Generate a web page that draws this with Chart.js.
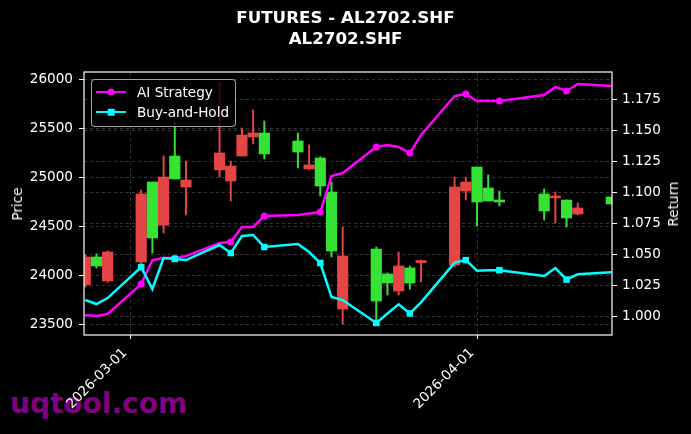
<!DOCTYPE html>
<html>
<head>
<meta charset="utf-8">
<script src="https://cdn.jsdelivr.net/npm/chart.js@4.4.1/dist/chart.umd.min.js"></script>
<style>
  html, body { margin: 0; padding: 0; background: #000; }
  #wrap { position: relative; width: 691px; height: 434px; overflow: hidden; font-family: 'DejaVu Sans', sans-serif; color: #fff; }
  #grafico { position: absolute; left: 0; top: 0; z-index: 1; }
  #marca { position: absolute; left: 10px; top: 390px; font-size: 28px; line-height: 28px; font-weight: bold; color: #800080; z-index: 0; white-space: nowrap; }
  #titulo { position: absolute; left: 0; width: 691px; top: 7px; text-align: center; font-size: 16.7px; line-height: 21px; font-weight: bold; z-index: 2; }
  .ejeTitulo { position: absolute; font-size: 13.6px; white-space: nowrap; transform: translate(-50%, -50%) rotate(-90deg); z-index: 2; }
  #leyenda { position: absolute; left: 91px; top: 79px; width: 143px; height: 44px; border: 1px solid rgba(204,204,204,0.8); border-radius: 4px; background: rgba(0,0,0,0.8); padding-top: 2px; box-sizing: content-box; z-index: 3; }
  .fila { display: flex; align-items: center; height: 20px; font-size: 13.6px; }
  .simbolo { position: relative; width: 30px; height: 20px; margin-left: 4px; margin-right: 11px; }
  .simbolo .linea { position: absolute; left: 0; right: 0; top: 8.75px; height: 2.5px; }
  .simbolo .marca { position: absolute; left: 50%; top: 50%; transform: translate(-50%, -50%); }
</style>
</head>
<body>
<div id="wrap">
  <div id="marca">uqtool.com</div>
  <canvas id="grafico" width="691" height="434"></canvas>
  <div id="titulo">FUTURES - AL2702.SHF<br>AL2702.SHF</div>
  <div class="ejeTitulo" style="left:17px; top:203.5px;">Price</div>
  <div class="ejeTitulo" style="left:673px; top:203.5px;">Return</div>
  <div id="leyenda"></div>
</div>
<script>
// Velas diarias AL2702.SHF
const fechas = ['2026-02-25','2026-02-26','2026-02-27','2026-03-02','2026-03-03','2026-03-04','2026-03-05','2026-03-06',
  '2026-03-09','2026-03-10','2026-03-11','2026-03-12','2026-03-13','2026-03-16','2026-03-17','2026-03-18','2026-03-19',
  '2026-03-20','2026-03-23','2026-03-24','2026-03-25','2026-03-26','2026-03-27','2026-03-30','2026-03-31','2026-04-01',
  '2026-04-02','2026-04-03','2026-04-07','2026-04-08','2026-04-09','2026-04-10','2026-04-13'];
const apertura = [23901, 24187, 23942, 24136, 24952, 24511, 25217, 24901, 25075, 24962, 25217, 25411, 25452, 25370, 25085, 25197, 24850,
  23656, 24268, 24013, 23840, 24075, 24130, 24105, 24860, 25105, 24891, 24753, 24830, 24789, 24768, 24626, 24799];
const maximo = [24210, 24218, 24250, 24870, 24952, 25217, 25564, 25166, 25972, 25166, 25503, 25687, 25574, 25452, 25330, 25207, 24952,
  24493, 24289, 24024, 24238, 24095, 24156, 25003, 25003, 25105, 25024, 24860, 24881, 24850, 24768, 24738, 24799];
const minimo = [23880, 24074, 23930, 24115, 24228, 24432, 24983, 24615, 25003, 24758, 25217, 25340, 25187, 25095, 25075, 24809, 24187,
  23503, 23514, 23799, 23799, 23860, 23932, 24085, 24768, 24503, 24758, 24707, 24564, 24534, 24493, 24616, 24728];
const cierre = [24187, 24095, 24238, 24830, 24381, 25003, 24983, 24972, 25248, 25115, 25431, 25452, 25238, 25258, 25126, 24911, 24248,
  24197, 23737, 23921, 24095, 23921, 24136, 24901, 24952, 24748, 24758, 24748, 24656, 24809, 24585, 24687, 24728];

// Curvas de rendimiento (eje derecho)
const retornoIA = [1.0008, 1.0000, 1.0016, 1.0258, 1.0452, 1.0468, 1.0468, 1.0484, 1.0589, 1.0597, 1.0718, 1.0718, 1.0807, 1.0815, 1.0827, 1.0839, 1.1130,
  1.1154, 1.1364, 1.1380, 1.1364, 1.1315, 1.1461, 1.1775, 1.1791, 1.1735, 1.1735, 1.1735, 1.1783, 1.1848, 1.1816, 1.1872, 1.1856];
const retornoBH = [1.0129, 1.0097, 1.0145, 1.0395, 1.0218, 1.0468, 1.0460, 1.0452, 1.0573, 1.0508, 1.0646, 1.0654, 1.0557, 1.0581, 1.0516, 1.0428, 1.0153,
  1.0129, 0.9944, 1.0021, 1.0094, 1.0021, 1.0110, 1.0431, 1.0451, 1.0366, 1.0370, 1.0370, 1.0323, 1.0387, 1.0294, 1.0337, 1.0354];

const ticksFecha = ['2026-03-01', '2026-04-01'];
const ticksPrecio = [23500, 24000, 24500, 25000, 25500, 26000];
const ticksRetorno = [1.000, 1.025, 1.050, 1.075, 1.100, 1.125, 1.150, 1.175];

const series = [
  { nombre: 'AI Strategy', color: '#ff00ff', forma: 'circle' },
  { nombre: 'Buy-and-Hold', color: '#00ffff', forma: 'rect' }
];

function diaNum(s) {
  const [a, m, d] = s.split('-').map(Number);
  return Date.UTC(a, m - 1, d) / 86400000;
}
function diaTexto(n) {
  return new Date(Math.round(n) * 86400000).toISOString().slice(0, 10);
}

// Leyenda en HTML (línea con marcador)
const leyenda = document.getElementById('leyenda');
series.forEach(s => {
  const marca = s.forma === 'circle'
    ? `<div class="marca" style="width:7px;height:7px;border-radius:50%;background:${s.color}"></div>`
    : `<div class="marca" style="width:6.5px;height:6.5px;background:${s.color}"></div>`;
  leyenda.innerHTML += `<div class="fila"><div class="simbolo"><div class="linea" style="background:${s.color}"></div>${marca}</div><span>${s.nombre}</span></div>`;
});

const ROJO = '#e64545';
const VERDE = '#35e335';
const colorVela = cierre.map((c, i) => c >= apertura[i] ? ROJO : VERDE);
const xs = fechas.map(diaNum);
// marcador cada 3 sesiones
const conMarca = xs.map((_, i) => i > 0 && i % 3 === 0);

// Marco blanco alrededor del área de trazado
const marco = {
  id: 'marco',
  afterDatasetsDraw(chart) {
    const { ctx, chartArea: { left, top, right, bottom } } = chart;
    ctx.save();
    ctx.strokeStyle = '#ffffff';
    ctx.lineWidth = 1.2;
    ctx.strokeRect(left, top, right - left, bottom - top);
    ctx.restore();
  }
};

Chart.defaults.font.family = "'DejaVu Sans', sans-serif";
const fuente = { size: 13.6 };
const colorGrid = 'rgba(150,150,150,0.45)';

new Chart(document.getElementById('grafico'), {
  type: 'bar',
  data: {
    datasets: [
      {
        type: 'line',
        label: series[1].nombre,
        data: xs.map((x, i) => ({ x, y: retornoBH[i] })),
        yAxisID: 'y1',
        borderColor: series[1].color,
        backgroundColor: series[1].color,
        borderWidth: 2.5,
        pointStyle: 'rect',
        pointRadius: conMarca.map(m => m ? 4.6 : 0),
        pointBorderWidth: 0,
        tension: 0,
        order: 0
      },
      {
        type: 'line',
        label: series[0].nombre,
        data: xs.map((x, i) => ({ x, y: retornoIA[i] })),
        yAxisID: 'y1',
        borderColor: series[0].color,
        backgroundColor: series[0].color,
        borderWidth: 2.5,
        pointStyle: 'circle',
        pointRadius: conMarca.map(m => m ? 3.5 : 0),
        pointBorderWidth: 0,
        tension: 0,
        order: 1
      },
      {
        label: 'cuerpo',
        data: xs.map((x, i) => ({ x, y: [apertura[i], cierre[i]] })),
        yAxisID: 'y',
        backgroundColor: colorVela,
        barThickness: 10.5,
        minBarLength: 2,
        grouped: false,
        order: 2
      },
      {
        label: 'mecha',
        data: xs.map((x, i) => ({ x, y: [minimo[i], maximo[i]] })),
        yAxisID: 'y',
        backgroundColor: colorVela,
        barThickness: 1.3,
        grouped: false,
        order: 3
      }
    ]
  },
  options: {
    responsive: false,
    animation: false,
    events: [],
    layout: { padding: { top: 72, left: 0, right: 0, bottom: 0 } },
    plugins: { legend: { display: false }, tooltip: { enabled: false } },
    scales: {
      x: {
        type: 'linear',
        offset: false,
        min: diaNum('2026-02-25') - 0.11,
        max: diaNum('2026-04-13') + 0.06,
        afterBuildTicks: s => { s.ticks = ticksFecha.map(t => ({ value: diaNum(t) })); },
        afterFit: s => { s.height = 99; },
        ticks: { autoSkip: false, minRotation: 45, maxRotation: 45, color: '#ffffff', font: fuente, padding: 6, labelOffset: -5, callback: v => diaTexto(v) },
        grid: { offset: false, color: colorGrid, lineWidth: 0.8, tickLength: 4, tickColor: '#ffffff', tickWidth: 1, tickBorderDash: [] },
        border: { display: false, dash: [3, 3] }
      },
      y: {
        position: 'left',
        min: 23391,
        max: 26074,
        afterBuildTicks: s => { s.ticks = ticksPrecio.map(v => ({ value: v })); },
        afterFit: s => { s.width = 84; },
        ticks: { color: '#ffffff', font: fuente, padding: 6, callback: v => String(v) },
        grid: { color: colorGrid, lineWidth: 0.8, tickLength: 5, tickColor: '#ffffff', tickWidth: 1, tickBorderDash: [] },
        border: { display: false, dash: [3, 3] }
      },
      y1: {
        position: 'right',
        min: 0.9847,
        max: 1.1969,
        afterBuildTicks: s => { s.ticks = ticksRetorno.map(v => ({ value: v })); },
        afterFit: s => { s.width = 79; },
        ticks: { color: '#ffffff', font: fuente, padding: 5, callback: v => v.toFixed(3) },
        grid: { color: colorGrid, lineWidth: 0.8, tickLength: 5, tickColor: '#ffffff', tickWidth: 1, tickBorderDash: [] },
        border: { display: false, dash: [3, 3] }
      }
    }
  },
  plugins: [marco]
});
</script>
</body>
</html>
